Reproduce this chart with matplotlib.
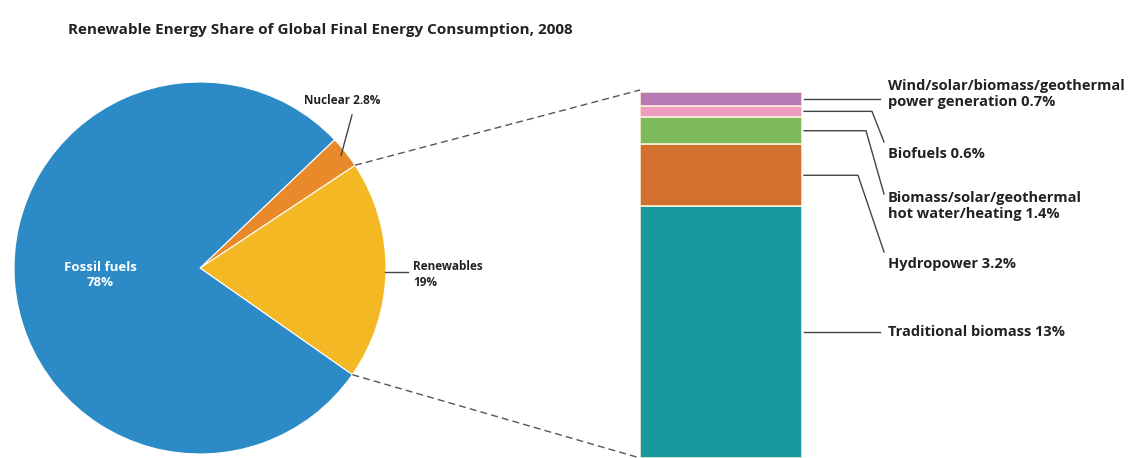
import matplotlib
matplotlib.use("Agg")
import matplotlib.pyplot as plt
import numpy as np

# pie data (share of global final energy consumption, %)
pie_labels = ["Renewables", "Nuclear", "Fossil fuels"]
pie_values = [19.0, 2.8, 78.0]
pie_colors = ["#F4B825", "#E98A2A", "#2C8BC7"]

# breakdown of renewables (%), bottom to top
bar_labels = [
    "Traditional biomass 13%",
    "Hydropower 3.2%",
    "Biomass/solar/geothermal\nhot water/heating 1.4%",
    "Biofuels 0.6%",
    "Wind/solar/biomass/geothermal\npower generation 0.7%",
]
bar_values = [13.0, 3.2, 1.4, 0.6, 0.7]
bar_colors = ["#15999C", "#D2702D", "#7DBA5C", "#EE9DBF", "#B679B4"]

W, H = 1136, 458
FONT = ["Open Sans", "DejaVu Sans"]
TXT = "#222222"

fig = plt.figure(figsize=(W / 100, H / 100), dpi=100)
ax = fig.add_axes([0, 0, 1, 1])

# ---- pie ----
cx, cy, r = 200, 190, 186
start = -35
ax.pie(pie_values, colors=pie_colors, startangle=start, counterclock=True,
       center=(cx, cy), radius=r, frame=True,
       wedgeprops=dict(edgecolor="white", linewidth=0.8))
ax.set_xlim(0, W)
ax.set_ylim(0, H)
ax.set_aspect("equal")
ax.axis("off")

total = sum(pie_values)
ang_ren_top = start + pie_values[0] / total * 360
ang_nuc_mid = ang_ren_top + pie_values[1] / total * 180


def edge(a, rr=r):
    t = np.deg2rad(a)
    return cx + rr * np.cos(t), cy + rr * np.sin(t)


ax.text(100, 183, "Fossil fuels\n78%", color="white", ha="center", va="center",
        fontsize=9.5, fontweight="bold", family=FONT, linespacing=1.15)

# nuclear label
nx, ny = edge(ang_nuc_mid, r * 0.97)
ax.plot([nx, 352], [ny, 343], color="#444444", lw=1)
ax.text(304, 357, "Nuclear 2.8%", ha="left", va="center", fontsize=8.5,
        fontweight="bold", family=FONT, color=TXT)

# renewables label
ax.plot([cx + r - 1, 408], [186, 186], color="#444444", lw=1)
ax.text(413, 183, "Renewables\n19%", ha="left", va="center", fontsize=8.5,
        fontweight="bold", family=FONT, color=TXT, linespacing=1.3)

# ---- stacked bar ----
bar_left, bar_w, bar_top = 640, 162, 366
bax = fig.add_axes([bar_left / W, 0, bar_w / W, bar_top / H])
bottoms = np.concatenate([[0], np.cumsum(bar_values)[:-1]])
bax.bar(0, bar_values, bottom=bottoms, width=1, color=bar_colors,
        edgecolor="#FBEFD9", linewidth=1.2)
bax.set_xlim(-0.5, 0.5)
bax.set_ylim(0, sum(bar_values))
bax.axis("off")

# dashed connectors
x1, y1 = edge(ang_ren_top)
x2, y2 = edge(start)
ax.plot([x1, bar_left], [y1, bar_top + 2], ls=(0, (5, 3)), color="#555555", lw=1)
ax.plot([x2, bar_left], [y2, 0], ls=(0, (5, 3)), color="#555555", lw=1)

# leader lines and labels
mids = (bottoms + np.array(bar_values) / 2) / sum(bar_values) * bar_top
text_y = [126, 194, 252, 304, 364]
line_end = [126, 206, 264, 316, 361]
bend_x = [876, 858, 866, 872, 880]
x0 = bar_left + bar_w + 2
for i, (lab, m) in enumerate(zip(bar_labels, mids)):
    if i in (0, 4):
        ax.plot([x0, 880], [m, m], color="#444444", lw=1)
    else:
        ax.plot([x0, bend_x[i], 884], [m, m, line_end[i]], color="#444444", lw=1)
    ax.text(888, text_y[i], lab, ha="left", va="center", fontsize=10.5,
            fontweight="bold", family=FONT, color=TXT, linespacing=1.1)

fig.text(68 / W, 1 - 30 / H, "Renewable Energy Share of Global Final Energy Consumption, 2008",
         ha="left", va="center", fontsize=11, fontweight="bold", family=FONT, color=TXT)

fig.savefig("out.png", dpi=100, facecolor="white")
